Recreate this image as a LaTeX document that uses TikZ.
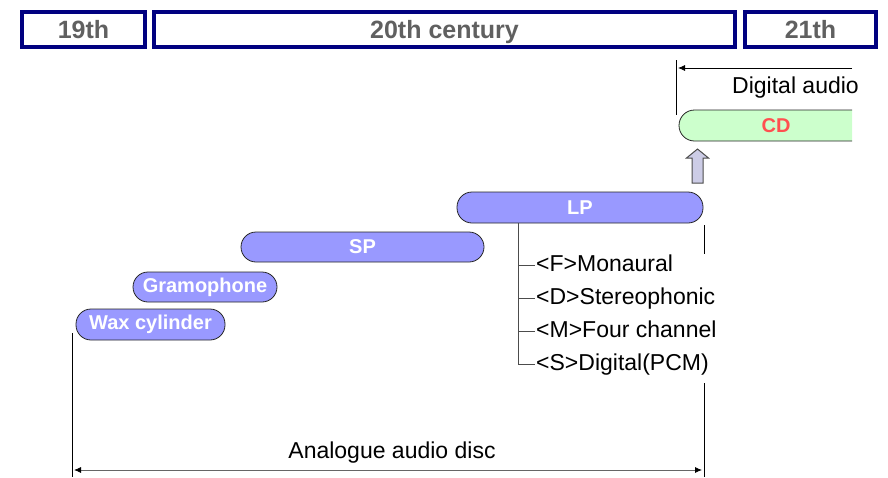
\documentclass[tikz,border=0pt]{standalone}
\usepackage{fontspec}
\setmainfont{Liberation Sans}
\usepackage{tikz}
\usetikzlibrary{arrows.meta}

\definecolor{navyframe}{RGB}{0,0,128}
\definecolor{headgray}{RGB}{96,96,96}
\definecolor{discblue}{RGB}{153,153,255}
\definecolor{cdgreen}{RGB}{204,255,204}
\definecolor{cdred}{RGB}{255,80,80}
\definecolor{upfill}{RGB}{204,204,230}

\begin{document}
\begin{tikzpicture}[x=1pt,y=-1pt]
    \useasboundingbox (0,0) rectangle (888,477);

    % centuries
    \begin{scope}[every node/.style={draw=navyframe,line width=4pt,fill=white,text=headgray,
                  font=\fontsize{25}{25}\selectfont\bfseries,minimum height=35pt,inner sep=0pt,
                  text height=18.5pt,text depth=0pt}]
        \node[minimum width=123pt] (C19) at (83.5,29.5) {19th};
        \node[minimum width=581pt] (C20) at (444.5,29.5) {20th century};
        \node[minimum width=131pt] (C21) at (810.5,29) {21th};
    \end{scope}

    % discs
    \begin{scope}[every node/.style={draw=black!85,thick,fill=discblue,text=white,rounded corners=15pt,
                  font=\fontsize{20}{20}\selectfont\bfseries,inner sep=0pt}]
        \node[minimum width=149pt,minimum height=31pt] (Wax) at (150.5,324.5) {Wax cylinder};
        \node[minimum width=144pt,minimum height=30pt] (Gram) at (205,287) {Gramophone};
        \node[minimum width=243pt,minimum height=30pt] (SP) at (362.5,247) {SP};
        \node[minimum width=246pt,minimum height=31pt] (LP) at (580,207.5) {LP};
    \end{scope}

    \path[fill=cdgreen,draw=black!85,thick,rounded corners=15.5pt]
        (852,110) -- (679,110) -- (679,141) -- (852,141);
    \node[text=cdred,font=\fontsize{20}{20}\selectfont\bfseries] (CD) at (776,126) {CD};

    \draw[fill=upfill,draw=black!70,line width=1pt] (692,183) -- (692,158) -- (686.5,158) -- (697.5,149)
        -- (708.5,158) -- (703,158) -- (703,183) -- cycle;

    % LP variants
    \coordinate (LPstem) at (518,223);
    \begin{scope}[every node/.style={anchor=west,inner sep=1pt,font=\fontsize{23}{23}\selectfont,
                  text height=16.5pt,text depth=4.5pt}]
        \node (Mono) at (535,265) {<F>Monaural};
        \node (Stereo) at (535,298) {<D>Stereophonic};
        \node (Four) at (535,331) {<M>Four channel};
        \node (PCM) at (535,364) {<S>Digital(PCM)};
    \end{scope}
    \begin{scope}[every path/.style={draw=black!70,thick}]
        \path (LPstem) |- (Mono.west);
        \path (LPstem) |- (Stereo.west);
        \path (LPstem) |- (Four.west);
        \path (LPstem) |- (PCM.west);
    \end{scope}

    % spans
    \coordinate (DAtop) at (676,60);
    \coordinate (DAbot) at (676,115);
    \coordinate (DAright) at (852,68);
    \coordinate (DAleft) at (678,68);
    \coordinate (LPendA) at (704,225);
    \coordinate (LPendB) at (704,254);
    \coordinate (AnaTopL) at (72,333);
    \coordinate (AnaBotL) at (72,477);
    \coordinate (AnaTopR) at (704,383);
    \coordinate (AnaBotR) at (704,477);
    \coordinate (AnaL) at (74,470);
    \coordinate (AnaR) at (702,470);

    \begin{scope}[>={Latex[black,length=7pt,width=6pt]}]
        \draw[thick] (DAtop) -- (DAbot);
        \draw[thick] (LPendA) -- (LPendB);
        \draw[thick] (AnaTopL) -- (AnaBotL);
        \draw[thick] (AnaTopR) -- (AnaBotR);
        \draw[thick,->] (DAright) -- (DAleft);
        \draw[thick,draw=black!60,<->] (AnaL) -- (AnaR);
    \end{scope}

    \node[font=\fontsize{23}{23}\selectfont,text height=16.5pt,text depth=4.5pt] (DA) at (795.5,87) {Digital audio};
    \node[font=\fontsize{23}{23}\selectfont,text height=16.5pt,text depth=4.5pt] (Ana) at (392,452) {Analogue audio disc};
\end{tikzpicture}
\end{document}
